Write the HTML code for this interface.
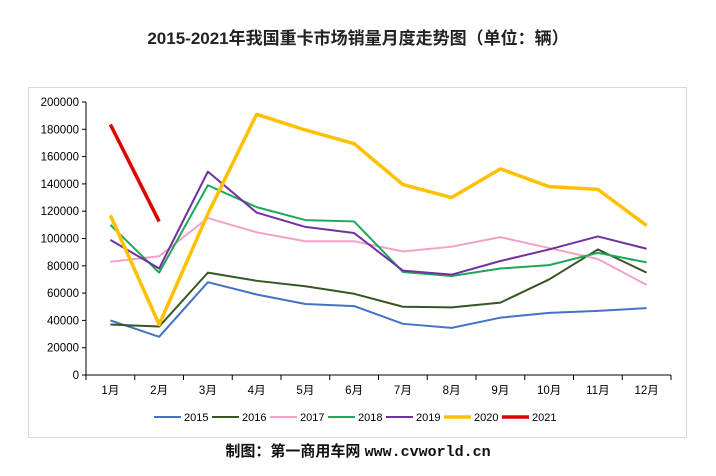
<!DOCTYPE html>
<html><head><meta charset="utf-8"><style>
body{margin:0;background:#fff;width:716px;height:471px;overflow:hidden;font-family:"Liberation Sans","Noto Sans CJK SC",sans-serif}
</style></head><body>
<svg width="716" height="471" xmlns="http://www.w3.org/2000/svg">
<text x="358" y="44" text-anchor="middle" font-size="17" font-weight="bold" fill="#222" font-family="Liberation Sans,Noto Sans CJK SC,sans-serif">2015-2021年我国重卡市场销量月度走势图（单位：辆）</text>
<rect x="28.5" y="87.5" width="658" height="350" fill="none" stroke="#d9d9d9"/>
<g id="axes"></g>
<g id="series"></g>
<g id="legend"></g>
<text x="358" y="456" text-anchor="middle" font-size="15" font-weight="bold" fill="#111" font-family="Liberation Sans,Noto Sans CJK SC,sans-serif">制图：第一商用车网 <tspan font-family="Liberation Mono,monospace">www.cvworld.cn</tspan></text>
</svg>
<script>
const categories=["1月","2月","3月","4月","5月","6月","7月","8月","9月","10月","11月","12月"];
const yTicks=[0,20000,40000,60000,80000,100000,120000,140000,160000,180000,200000];
const years=["2015","2016","2017","2018","2019","2020","2021"];
const colors=["#4472c4","#375623","#f4a0c8","#1ea75a","#7030a0","#ffc000","#e00000"];
const widths=[2,2,2,2,2,3.5,3.5];
const s2015=[40000,28000,68000,59000,52000,50500,37500,34500,42000,45500,47000,49000];
const s2016=[37000,35500,75000,69000,65000,59500,50000,49500,53000,70000,92000,75000];
const s2017=[83000,87000,115000,104500,98000,98000,90500,94000,101000,93000,85000,66000];
const s2018=[110000,75000,139000,123000,113500,112500,75500,72500,78000,80500,89500,82500];
const s2019=[99000,78000,149000,119000,108500,104000,76500,73500,83500,92000,101500,92500];
const s2020=[117000,37000,118000,191000,179500,169500,139500,130000,151000,138000,136000,109500];
const s2021=[183500,112500];
const series=[s2015,s2016,s2017,s2018,s2019,s2020,s2021];
const NS="http://www.w3.org/2000/svg";
const x0=86,x1=671,y0=375,y1=102;
const bw=(x1-x0)/categories.length;
function X(i){return x0+bw*(i+0.5);}
function Y(v){return y0-(v/200000)*(y0-y1);}
function mk(t,a,p){const e=document.createElementNS(NS,t);for(const k in a)e.setAttribute(k,a[k]);p.appendChild(e);return e;}
const ax=document.getElementById('axes');
const yl=mk('line',{x1:x0,y1:y1,x2:x0,y2:y0,stroke:'#000'},ax);


const xl=mk('line',{x1:x0,y1:y0,x2:x1,y2:y0,stroke:'#000'},ax);


yTicks.forEach(v=>{
 mk('line',{x1:x0-4,y1:Y(v),x2:x0,y2:Y(v),stroke:'#000'},ax);
 const t=mk('text',{x:x0-7,y:Y(v)+4,'text-anchor':'end','font-size':11.5,fill:'#000'},ax);
 t.textContent=v;
 
 
});
for(let i=0;i<=categories.length;i++){mk('line',{x1:x0+bw*i,y1:y0,x2:x0+bw*i,y2:y0+5,stroke:'#000'},ax);}
categories.forEach((c,i)=>{
 const t=mk('text',{x:X(i),y:y0+19,'text-anchor':'middle','font-size':11.5,fill:'#000'},ax);
 t.textContent=c;
 
 
});
const sg=document.getElementById('series');
series.forEach((s,k)=>{
 const p=mk('polyline',{points:s.map((v,i)=>X(i)+','+Y(v)).join(' '),fill:'none',stroke:colors[k],'stroke-width':widths[k],'stroke-linejoin':'round'},sg);
 
 
});
const lg=document.getElementById('legend');
let lx=154;
years.forEach((y,k)=>{
 const g=mk('g',{},lg);
 
 
 mk('line',{x1:lx,y1:417,x2:lx+27,y2:417,stroke:colors[k],'stroke-width':widths[k]},g);
 const t=mk('text',{x:lx+30,y:421,'font-size':11,fill:'#000'},g);
 t.textContent=y;
 lx+=58;
});
</script>
</body></html>
